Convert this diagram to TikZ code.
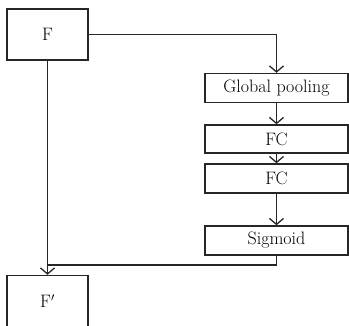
\documentclass[tikz,border=0pt]{standalone}
\usepackage{fontspec}
\usetikzlibrary{arrows.meta}
\begin{document}
\begin{tikzpicture}[x=1pt,y=-1pt,
  box/.style={draw=black!85,line width=1.4pt,minimum width=143pt,minimum height=29pt,inner sep=0pt,
    font=\fontsize{18}{21}\selectfont},
  bigbox/.style={box,minimum width=81pt,minimum height=51pt},
  conn/.style={draw=black!85,line width=1.4pt},
  arr/.style={conn,-{Straight Barb[length=6pt,width=14pt,line width=1.3pt]}}]
\useasboundingbox (0,0) rectangle (349,326);
\node[bigbox] (F) at (47.5,34.5) {F};
\node[bigbox] (Fp) at (47.5,301) {F$'$};
\node[box] (gp) at (276.5,88) {Global pooling};
\node[box,minimum height=28pt] (fc1) at (276.5,139) {FC};
\node[box] (fc2) at (276.5,178.5) {FC};
\node[box] (sig) at (276.5,240.5) {Sigmoid};
\coordinate (m) at (47.5,265);
\draw[arr] (F.east) -| (gp.north);
\draw[arr] (gp) -- (fc1);
\draw[arr] (fc1) -- (fc2);
\draw[arr] (fc2) -- (sig);
\draw[arr] (F) -- (Fp);
\draw[conn] (sig.south) |- (m);
\end{tikzpicture}
\end{document}
